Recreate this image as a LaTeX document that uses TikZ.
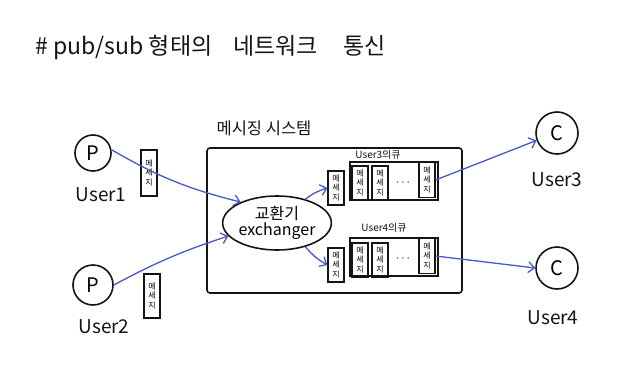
\documentclass[tikz,border=0pt]{standalone}
\usepackage{fontspec}
\setmainfont{Noto Sans CJK KR}
\usepackage{tikz}
\usetikzlibrary{arrows.meta,positioning,shapes.geometric}
\definecolor{penBlack}{RGB}{20,20,20}
\definecolor{penBlue}{RGB}{72,88,196}

\begin{document}
\begin{tikzpicture}[x=1pt,y=-1pt,
    pen/.style={draw=penBlack, line width=1.6pt},
    user/.style={pen, circle, inner sep=0pt, font=\fontsize{20}{22}\selectfont},
    uname/.style={font=\fontsize{19}{21}\selectfont, text=penBlack},
    msgbox/.style={pen, line width=1.1pt, align=center, inner sep=1pt, minimum width=16, minimum height=34,
        font=\fontsize{8}{9.5}\selectfont},
    flow/.style={draw=penBlue, line width=1.3pt, -{Straight Barb[length=6pt,width=11pt]}}]
    \useasboundingbox (0,0) rectangle (621,380);

    \node[anchor=west, font=\fontsize{23}{25}\selectfont, text=penBlack] (title) at (32,48)
        {\# pub/sub 형태의\hspace{0.9em}네트워크\hspace{1.1em}통신};

    % publishers
    \node[user, minimum size=36] (p1) at (93,153) {P};
    \node[uname] (u1) at (101,195) {User1};
    \node[user, minimum size=40] (p2) at (93,285) {P};
    \node[uname] (u2) at (104,327) {User2};
    \node[msgbox, minimum height=46] (m1) at (149,173) {메\\세\\지};
    \node[msgbox, minimum height=44] (m2) at (152,296) {메\\세\\지};

    % messaging system
    \node[pen, rounded corners=3pt, minimum width=255, minimum height=145] (sys) at (334.5,220.5) {};
    \node[font=\fontsize{16.5}{18}\selectfont, text=penBlack] (syslbl) at (264,128) {메시징 시스템};
    \node[pen, ellipse, minimum width=94, minimum height=54, inner sep=0pt, align=center,
        font=\fontsize{16}{16}\selectfont] (ex) at (277,223) {교환기\\exchanger};

    % queue of User3
    \node[font=\fontsize{10}{11}\selectfont, text=penBlack] (q3lbl) at (378,155) {User3의큐};
    \node[pen, line width=1.1pt, minimum width=88, minimum height=38] (q3) at (394,181) {};
    \node[msgbox] (q3a) at (336,188) {메\\세\\지};
    \node[msgbox] (q3b) at (360,183) {메\\세\\지};
    \node[msgbox] (q3c) at (380,183) {메\\세\\지};
    \node[font=\fontsize{12}{12}\selectfont] (q3dots) at (403,183) {$\cdots$};
    \node[msgbox, minimum height=35] (q3d) at (427,180) {메\\세\\지};

    % queue of User4
    \node[font=\fontsize{10}{11}\selectfont, text=penBlack] (q4lbl) at (384,228) {User4의큐};
    \node[pen, line width=1.1pt, minimum width=88, minimum height=38] (q4) at (394,257) {};
    \node[msgbox] (q4a) at (336,265) {메\\세\\지};
    \node[msgbox] (q4b) at (360,260) {메\\세\\지};
    \node[msgbox] (q4c) at (380,260) {메\\세\\지};
    \node[font=\fontsize{12}{12}\selectfont] (q4dots) at (403,259) {$\cdots$};
    \node[msgbox, minimum height=35] (q4d) at (427,256) {메\\세\\지};

    % consumers
    \node[user, minimum size=42] (c3) at (557,133) {C};
    \node[uname] (u3) at (557,180) {User3};
    \node[user, minimum size=42] (c4) at (557,268) {C};
    \node[uname] (u4) at (553,318) {User4};

    % message flow
    \draw[flow] (p1.10) to[bend right=8] (ex.150);
    \draw[flow] (p2.east) to[bend left=5] (ex.195);
    \draw[flow] (ex.40) to[bend left=10] (q3a.west);
    \draw[flow] (ex.-40) to[bend right=10] (q4a.west);
    \draw[flow] (q3d.east) -- (c3.200);
    \draw[flow] (q4d.east) -- (c4.west);
\end{tikzpicture}
\end{document}
